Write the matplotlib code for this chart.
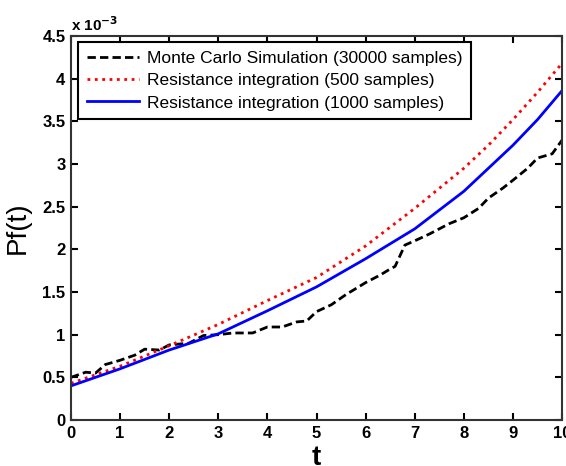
import matplotlib
matplotlib.use("Agg")
import matplotlib.pyplot as plt
import numpy as np

plt.rcParams['font.family'] = ['Liberation Sans', 'DejaVu Sans']

t_smooth = [0, 1, 2, 3, 4, 5, 6, 7, 8, 8.5, 9, 9.5, 10]
pf_1000 = [0.40, 0.60, 0.82, 1.01, 1.28, 1.56, 1.89, 2.24, 2.68, 2.95, 3.22, 3.52, 3.86]
pf_500 = [0.43, 0.63, 0.87, 1.12, 1.40, 1.67, 2.04, 2.48, 2.95, 3.22, 3.52, 3.84, 4.18]

t_mc = [0, 0.3, 0.5, 0.7, 1.0, 1.3, 1.5, 1.8, 2.0, 2.4, 2.7, 3.0, 3.3, 3.7, 4.0, 4.3,
        4.6, 4.8, 5.0, 5.3, 5.6, 6.0, 6.3, 6.5, 6.6, 6.8, 7.0, 7.3, 7.7, 8.0, 8.3,
        8.5, 8.8, 9.0, 9.3, 9.5, 9.8, 10.0]
pf_mc = [0.50, 0.56, 0.55, 0.65, 0.70, 0.76, 0.83, 0.82, 0.88, 0.90, 0.99, 1.00, 1.02,
         1.02, 1.09, 1.09, 1.15, 1.16, 1.27, 1.35, 1.47, 1.61, 1.70, 1.77, 1.80, 2.05,
         2.10, 2.18, 2.30, 2.37, 2.48, 2.60, 2.72, 2.81, 2.95, 3.07, 3.12, 3.28]

labels = ['Monte Carlo Simulation (30000 samples)',
          'Resistance integration (500 samples)',
          'Resistance integration (1000 samples)']

fig = plt.figure(figsize=(5.66, 4.66), dpi=100)
ax = fig.add_axes([0.1254, 0.0987, 0.8676, 0.824])

ax.plot(t_mc, pf_mc, color='black', linestyle='--', linewidth=2, dashes=(3, 1.5), label=labels[0])
ax.plot(t_smooth, pf_500, color='red', linestyle=':', linewidth=2, label=labels[1])
ax.plot(t_smooth, pf_1000, color='blue', linestyle='-', linewidth=2, label=labels[2])

ax.set_xlim(0, 10)
ax.set_ylim(0, 4.5)
ax.set_xticks(range(0, 11))
ax.set_yticks(np.arange(0, 4.51, 0.5))
ax.set_yticklabels(['0', '0.5', '1', '1.5', '2', '2.5', '3', '3.5', '4', '4.5'])
ax.tick_params(direction='in', length=5, width=1.5, labelsize=12, top=True, right=True, pad=4)
for lab in ax.get_xticklabels() + ax.get_yticklabels():
    lab.set_fontweight('bold')
for s in ax.spines.values():
    s.set_linewidth(1.5)
    s.set_color('#333333')

ax.text(0.0, 1.005, r'x 10$^{\mathbf{-3}}$', transform=ax.transAxes, fontsize=11,
        fontweight='bold', ha='left', va='bottom')

ax.set_ylabel('Pf(t)', fontsize=20, labelpad=8)
ax.set_xlabel('t', fontsize=20, fontweight='bold', labelpad=3)

leg = ax.legend(loc='upper left', fontsize=12.5, frameon=True, fancybox=False,
                edgecolor='black', framealpha=1, handlelength=3.0, borderpad=0.5,
                labelspacing=0.42, handletextpad=0.5, borderaxespad=0,
                bbox_to_anchor=(0.014, 0.985))
leg.get_frame().set_linewidth(1.5)

fig.savefig('out.png', dpi=100)
